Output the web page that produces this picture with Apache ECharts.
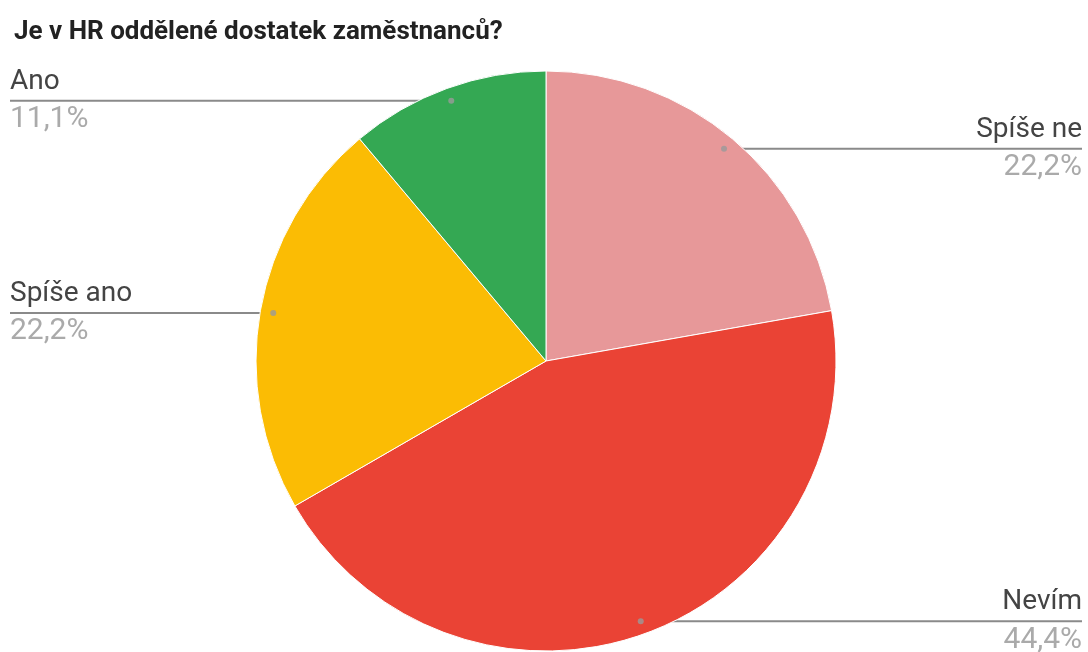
<!DOCTYPE html>
<html>
<head>
<meta charset="utf-8">
<script src="https://cdn.jsdelivr.net/npm/echarts@6/dist/echarts.min.js"></script>
<style>
  html, body { margin: 0; padding: 0; background: #fff; }
  #chart { width: 1088px; height: 652px; }
</style>
</head>
<body>
<div id="chart"></div>
<script>
// Survey answers, clockwise from 12 o'clock
const categories = ['Spíše ne', 'Nevím', 'Spíše ano', 'Ano'];
const counts = [2, 4, 2, 1];
const titleText = 'Je v HR oddělené dostatek zaměstnanců?';

const palette = ['#e79899', '#ea4335', '#fbbc04', '#34a853'];
const total = counts.reduce((a, b) => a + b, 0);
const CX = 546, CY = 361, R = 290, DOT_R = 0.955;
const W = 1088;

function pctText(v) {
  return (v / total * 100).toFixed(1).replace('.', ',') + '%';
}

// mid-angle of each slice in value units (for the polar dot series)
const midValues = counts.map((v, i) =>
  counts.slice(0, i).reduce((a, b) => a + b, 0) + v / 2);

const chart = echarts.init(document.getElementById('chart'), null, { renderer: 'canvas' });

chart.setOption({
  animation: false,
  textStyle: { fontFamily: 'Roboto, sans-serif' },
  title: {
    text: titleText,
    left: 9,
    top: 12,
    textStyle: { fontSize: 26, fontWeight: 'bold', color: '#222', lineHeight: 30, fontFamily: 'Roboto, sans-serif' }
  },
  polar: { center: [CX, CY], radius: R },
  angleAxis: { type: 'value', min: 0, max: total, startAngle: 90, clockwise: true, show: false },
  radiusAxis: { type: 'value', min: 0, max: 1, show: false },
  series: [
    {
      type: 'pie',
      center: [CX, CY],
      radius: R,
      startAngle: 90,
      clockwise: true,
      avoidLabelOverlap: false,
      silent: true,
      itemStyle: { borderColor: '#fff', borderWidth: 1 },
      data: categories.map((name, i) => ({
        name, value: counts[i], itemStyle: { color: palette[i] }
      })),
      label: {
        show: true,
        position: 'outside',
        formatter: p => '{n|' + p.name + '}\n{p|' + pctText(p.value) + '}',
        rich: {
          n: { fontSize: 28, color: '#444', lineHeight: 38, fontFamily: 'Roboto, sans-serif' },
          p: { fontSize: 30, color: '#aaa', lineHeight: 38, fontFamily: 'Roboto, sans-serif' }
        }
      },
      labelLine: {
        show: true, length: 10, length2: 10,
        lineStyle: { color: '#8a8a8a', width: 2 }
      },
      labelLayout: function (params) {
        const i = params.dataIndex;
        const a = midValues[i] / total * Math.PI * 2;
        const dx = Math.sin(a), dy = -Math.cos(a);
        const dot = [CX + R * DOT_R * dx, CY + R * DOT_R * dy];
        const left = dx < 0;
        const endX = left ? 10 : W - 6;
        return {
          x: endX,
          y: dot[1],
          align: left ? 'left' : 'right',
          verticalAlign: 'middle',
          labelLinePoints: [dot, dot.slice(), [endX, dot[1]]]
        };
      }
    },
    {
      // small markers where the leader lines start
      type: 'scatter',
      coordinateSystem: 'polar',
      symbol: 'circle',
      symbolSize: 6,
      silent: true,
      z: 5,
      itemStyle: { color: '#9a9a9a' },
      data: midValues.map(m => [DOT_R, m])
    }
  ]
});
</script>
</body>
</html>
